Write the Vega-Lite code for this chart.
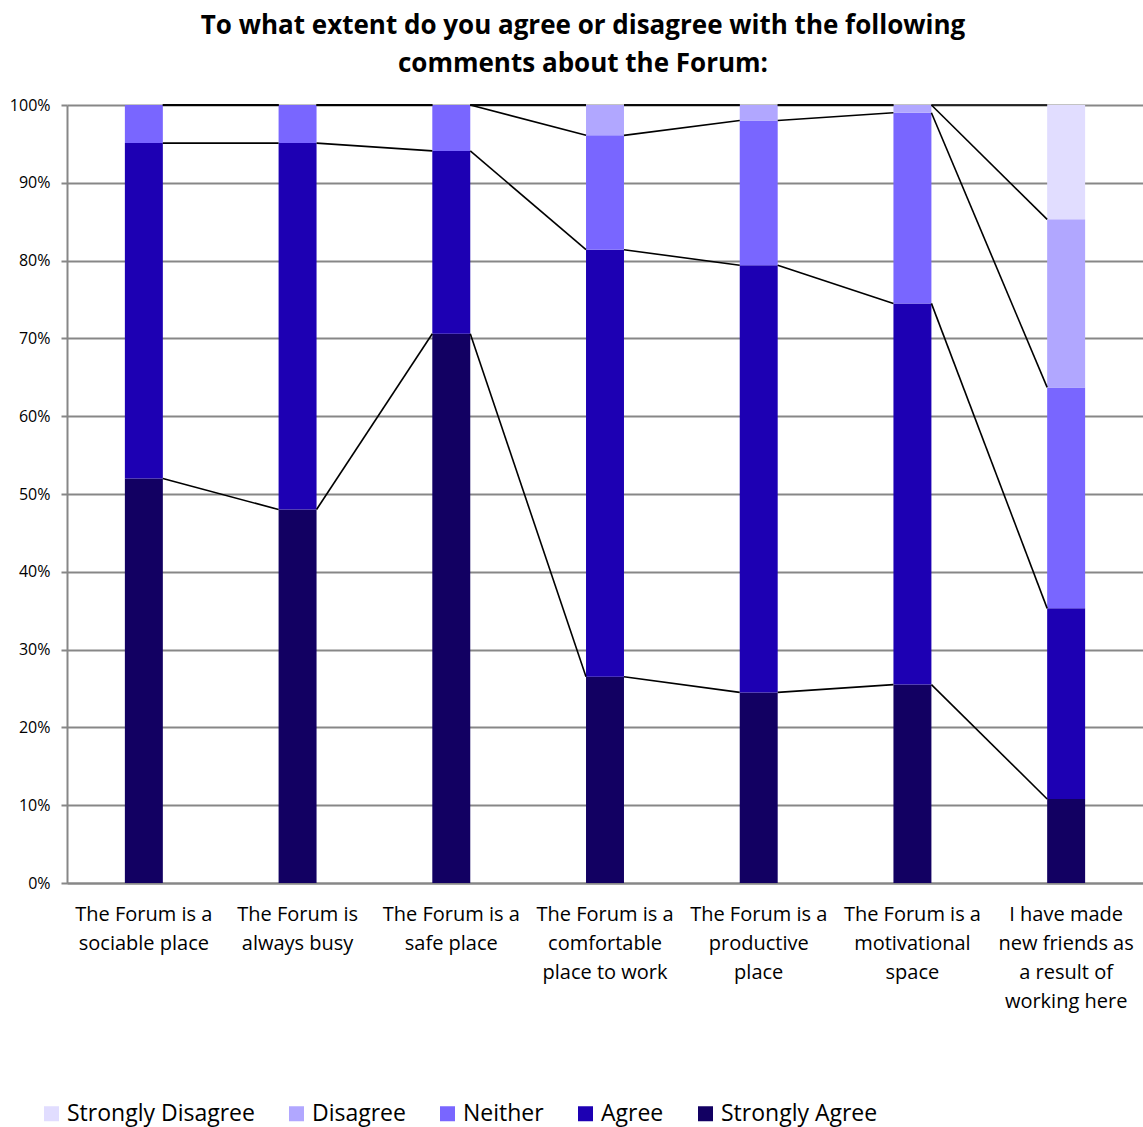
{
  "$schema": "https://vega.github.io/schema/vega-lite/v6.json",
  "width": 1076,
  "height": 778,
  "autosize": "none",
  "padding": {"left": 67, "top": 105, "right": 0, "bottom": 244},
  "config": {"font": "Open Sans", "view": {"stroke": null}},
  "title": {
    "text": ["To what extent do you agree or disagree with the following", "comments about the Forum:"],
    "font": "Open Sans",
    "fontSize": 26,
    "fontWeight": "bold",
    "color": "#000000",
    "anchor": "middle",
    "dx": -22,
    "lineHeight": 38,
    "offset": 20
  },
  "data": {
    "values": [
      {"question": "The Forum is a|sociable place", "q": 1, "response": "Strongly Agree", "level": 1, "pct": 52.0},
      {"question": "The Forum is a|sociable place", "q": 1, "response": "Agree", "level": 2, "pct": 43.1},
      {"question": "The Forum is a|sociable place", "q": 1, "response": "Neither", "level": 3, "pct": 4.9},
      {"question": "The Forum is a|sociable place", "q": 1, "response": "Disagree", "level": 4, "pct": 0},
      {"question": "The Forum is a|sociable place", "q": 1, "response": "Strongly Disagree", "level": 5, "pct": 0},
      {"question": "The Forum is|always busy", "q": 2, "response": "Strongly Agree", "level": 1, "pct": 48.0},
      {"question": "The Forum is|always busy", "q": 2, "response": "Agree", "level": 2, "pct": 47.1},
      {"question": "The Forum is|always busy", "q": 2, "response": "Neither", "level": 3, "pct": 4.9},
      {"question": "The Forum is|always busy", "q": 2, "response": "Disagree", "level": 4, "pct": 0},
      {"question": "The Forum is|always busy", "q": 2, "response": "Strongly Disagree", "level": 5, "pct": 0},
      {"question": "The Forum is a|safe place", "q": 3, "response": "Strongly Agree", "level": 1, "pct": 70.6},
      {"question": "The Forum is a|safe place", "q": 3, "response": "Agree", "level": 2, "pct": 23.5},
      {"question": "The Forum is a|safe place", "q": 3, "response": "Neither", "level": 3, "pct": 5.9},
      {"question": "The Forum is a|safe place", "q": 3, "response": "Disagree", "level": 4, "pct": 0},
      {"question": "The Forum is a|safe place", "q": 3, "response": "Strongly Disagree", "level": 5, "pct": 0},
      {"question": "The Forum is a|comfortable|place to work", "q": 4, "response": "Strongly Agree", "level": 1, "pct": 26.5},
      {"question": "The Forum is a|comfortable|place to work", "q": 4, "response": "Agree", "level": 2, "pct": 54.9},
      {"question": "The Forum is a|comfortable|place to work", "q": 4, "response": "Neither", "level": 3, "pct": 14.7},
      {"question": "The Forum is a|comfortable|place to work", "q": 4, "response": "Disagree", "level": 4, "pct": 3.9},
      {"question": "The Forum is a|comfortable|place to work", "q": 4, "response": "Strongly Disagree", "level": 5, "pct": 0},
      {"question": "The Forum is a|productive|place", "q": 5, "response": "Strongly Agree", "level": 1, "pct": 24.5},
      {"question": "The Forum is a|productive|place", "q": 5, "response": "Agree", "level": 2, "pct": 54.9},
      {"question": "The Forum is a|productive|place", "q": 5, "response": "Neither", "level": 3, "pct": 18.6},
      {"question": "The Forum is a|productive|place", "q": 5, "response": "Disagree", "level": 4, "pct": 2.0},
      {"question": "The Forum is a|productive|place", "q": 5, "response": "Strongly Disagree", "level": 5, "pct": 0},
      {"question": "The Forum is a|motivational|space", "q": 6, "response": "Strongly Agree", "level": 1, "pct": 25.5},
      {"question": "The Forum is a|motivational|space", "q": 6, "response": "Agree", "level": 2, "pct": 49.0},
      {"question": "The Forum is a|motivational|space", "q": 6, "response": "Neither", "level": 3, "pct": 24.5},
      {"question": "The Forum is a|motivational|space", "q": 6, "response": "Disagree", "level": 4, "pct": 1.0},
      {"question": "The Forum is a|motivational|space", "q": 6, "response": "Strongly Disagree", "level": 5, "pct": 0},
      {"question": "I have made|new friends as|a result of|working here", "q": 7, "response": "Strongly Agree", "level": 1, "pct": 10.8},
      {"question": "I have made|new friends as|a result of|working here", "q": 7, "response": "Agree", "level": 2, "pct": 24.5},
      {"question": "I have made|new friends as|a result of|working here", "q": 7, "response": "Neither", "level": 3, "pct": 28.4},
      {"question": "I have made|new friends as|a result of|working here", "q": 7, "response": "Disagree", "level": 4, "pct": 21.6},
      {"question": "I have made|new friends as|a result of|working here", "q": 7, "response": "Strongly Disagree", "level": 5, "pct": 14.7}
    ]
  },
  "layer": [
    {
      "mark": {"type": "bar", "strokeWidth": 0},
      "encoding": {
        "x": {
          "field": "question",
          "type": "nominal",
          "scale": {
            "domain": [
              "The Forum is a|sociable place",
              "The Forum is|always busy",
              "The Forum is a|safe place",
              "The Forum is a|comfortable|place to work",
              "The Forum is a|productive|place",
              "The Forum is a|motivational|space",
              "I have made|new friends as|a result of|working here"
            ],
            "paddingInner": 0.753,
            "paddingOuter": 0.3765
          },
          "axis": {
            "title": null,
            "labelExpr": "split(datum.value, '|')",
            "labelFont": "Open Sans",
            "labelFontSize": 20,
            "labelLineHeight": 29,
            "labelColor": "#000000",
            "labelAngle": 0,
            "labelLimit": 300,
            "labelPadding": 21,
            "ticks": false,
            "domain": true,
            "domainColor": "#878787",
            "domainWidth": 2
          }
        },
        "y": {
          "field": "pct",
          "type": "quantitative",
          "stack": "zero",
          "scale": {"domain": [0, 100], "nice": false},
          "axis": {
            "title": null,
            "values": [0, 10, 20, 30, 40, 50, 60, 70, 80, 90, 100],
            "labelExpr": "datum.value + '%'",
            "labelFont": "Open Sans",
            "labelFontSize": 16,
            "labelColor": "#000000",
            "labelPadding": 11,
            "grid": true,
            "gridColor": "#878787",
            "gridWidth": 2,
            "domain": true,
            "domainColor": "#878787",
            "domainWidth": 2,
            "ticks": true,
            "tickColor": "#878787",
            "tickSize": 6,
            "tickWidth": 2
          }
        },
        "color": {
          "field": "response",
          "type": "nominal",
          "scale": {
            "domain": ["Strongly Disagree", "Disagree", "Neither", "Agree", "Strongly Agree"],
            "range": ["#e1ddff", "#b1a7ff", "#7966ff", "#1d00b3", "#120062"]
          },
          "legend": {
            "title": null,
            "orient": "none",
            "legendX": -27,
            "legendY": 997,
            "direction": "horizontal",
            "symbolType": "square",
            "symbolSize": 225,
            "symbolStrokeWidth": 0,
            "labelFont": "Open Sans",
            "labelFontSize": 23,
            "labelColor": "#000000",
            "labelOffset": 4,
            "columnPadding": 30,
            "labelLimit": 300
          }
        },
        "order": {"field": "level", "type": "quantitative"}
      }
    },
    {
      "transform": [
        {"stack": "pct", "groupby": ["question"], "sort": [{"field": "level", "order": "ascending"}], "as": ["lo", "hi"]},
        {
          "window": [
            {"op": "lead", "field": "hi", "as": "hi_next"},
            {"op": "lead", "field": "question", "as": "question_next"}
          ],
          "groupby": ["response"],
          "sort": [{"field": "q", "order": "ascending"}]
        },
        {"filter": "datum.question_next != null"}
      ],
      "mark": {"type": "rule", "color": "#000000", "strokeWidth": 1.6},
      "encoding": {
        "x": {"field": "question", "type": "nominal", "bandPosition": 1},
        "x2": {"field": "question_next", "bandPosition": 0},
        "y": {"field": "hi", "type": "quantitative"},
        "y2": {"field": "hi_next"}
      }
    }
  ]
}
